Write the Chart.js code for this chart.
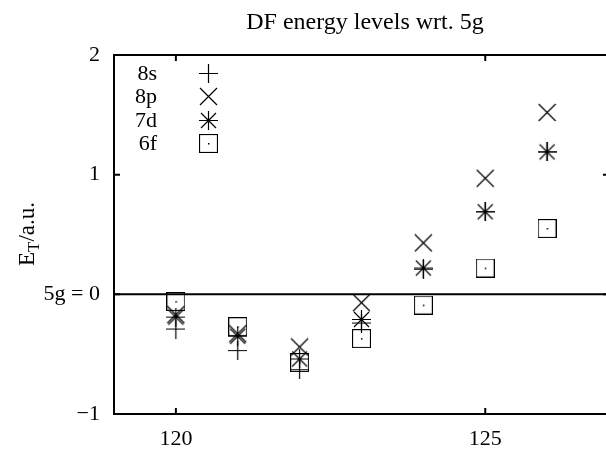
<!DOCTYPE html>
<html><head><meta charset="utf-8">
<script src="https://cdn.jsdelivr.net/npm/chart.js@4"></script>
<style>html,body{margin:0;padding:0;overflow:hidden;background:#fff}
#wrap{width:610px;height:449px;position:relative}
</style></head><body><div id="wrap"><canvas id="c"></canvas></div>
<script>
// ---- data ----
const xValues = [120, 121, 122, 123, 124, 125, 126];
const s8 = [-0.29, -0.47, -0.63, -0.24, 0.21, 0.69, 1.19];
const p8 = [-0.17, -0.33, -0.44, -0.07, 0.43, 0.97, 1.52];
const d7 = [-0.19, -0.35, -0.54, -0.21, 0.22, 0.69, 1.19];
const f6 = [-0.06, -0.27, -0.57, -0.37, -0.09, 0.22, 0.55];
const seriesLabels = ['8s', '8p', '7d', '6f'];
const xTickValues = [120, 125];
const yTickLabels = { '2': '2', '1': '1', '0': '5g = 0', '-1': '\u22121' };
const titleText = 'DF energy levels wrt. 5g';

const FONT = "'Liberation Serif', 'DejaVu Serif', serif";

// ---- marker images ----
function mk(size, draw) {
  const c = document.createElement('canvas');
  c.width = size; c.height = size;
  const g = c.getContext('2d');
  g.strokeStyle = '#000'; g.fillStyle = '#000'; g.lineWidth = 1.2;
  draw(g, size);
  return c;
}
const plusImg = mk(19, (g, s) => { g.beginPath(); g.moveTo(0, 9.5); g.lineTo(19, 9.5); g.moveTo(9.5, 0); g.lineTo(9.5, 19); g.stroke(); });
const crossImg = mk(19, (g, s) => { g.beginPath(); g.moveTo(1, 1); g.lineTo(18, 18); g.moveTo(18, 1); g.lineTo(1, 18); g.stroke(); });
const starImg = mk(19, (g, s) => { g.beginPath(); g.moveTo(0, 9.5); g.lineTo(19, 9.5); g.moveTo(9.5, 0); g.lineTo(9.5, 19);
  g.moveTo(2, 2); g.lineTo(17, 17); g.moveTo(17, 2); g.lineTo(2, 17); g.stroke(); });
const boxImg = mk(19, (g, s) => { g.strokeRect(0.5, 0.5, 18, 18); g.fillRect(9, 9, 1.5, 1.5); });
const markers = [plusImg, crossImg, starImg, boxImg];

const seriesValues = [s8, p8, d7, f6];
const datasets = seriesValues.map((vals, i) => ({
  label: seriesLabels[i],
  data: xValues.map((x, j) => ({ x: x, y: vals[j] })),
  showLine: false,
  pointStyle: markers[i],
  pointRadius: 9,
  pointHoverRadius: 9,
  borderColor: '#000',
  backgroundColor: '#000'
}));

// ---- frame, ticks, zero line, legend, titles ----
const framePlugin = {
  id: 'frame',
  beforeDatasetsDraw(chart) {
    const { ctx, chartArea: a, scales } = chart;
    const xs = scales.x, ys = scales.y;
    ctx.save();
    ctx.strokeStyle = '#000';
    ctx.lineWidth = 2;
    ctx.lineCap = 'square';
    ctx.strokeRect(a.left, a.top, a.right - a.left, a.bottom - a.top);
    const y0 = ys.getPixelForValue(0);
    ctx.beginPath(); ctx.moveTo(a.left, y0); ctx.lineTo(a.right, y0); ctx.stroke();
    const tl = 6;
    ctx.lineCap = 'butt';
    ctx.beginPath();
    xTickValues.forEach(v => {
      const px = xs.getPixelForValue(v);
      ctx.moveTo(px, a.bottom); ctx.lineTo(px, a.bottom - tl);
      ctx.moveTo(px, a.top); ctx.lineTo(px, a.top + tl);
    });
    Object.keys(yTickLabels).forEach(k => {
      const py = ys.getPixelForValue(Number(k));
      ctx.moveTo(a.left, py); ctx.lineTo(a.left + tl, py);
      ctx.moveTo(a.right, py); ctx.lineTo(a.right - tl, py);
    });
    ctx.stroke();
    ctx.restore();
  },
  afterDraw(chart) {
    const { ctx } = chart;
    ctx.save();
    ctx.fillStyle = '#000';
    // title
    ctx.font = '24px ' + FONT;
    ctx.textAlign = 'center';
    ctx.textBaseline = 'middle';
    ctx.fillText(titleText, 365, 23);
    // legend
    ctx.font = '22px ' + FONT;
    ctx.textAlign = 'right';
    const rows = [73, 96, 120, 143];
    chart.data.datasets.forEach((ds, i) => {
      ctx.fillText(ds.label, 157, rows[i] + 1);
      const img = ds.pointStyle;
      ctx.drawImage(img, Math.round(208 - img.width / 2), Math.round(rows[i] - img.height / 2));
    });
    // y axis title E_T/a.u.
    const cx = 34, cy = 234;
    ctx.translate(cx, cy);
    ctx.rotate(-Math.PI / 2);
    ctx.textAlign = 'left';
    ctx.textBaseline = 'alphabetic';
    const big = '23px ' + FONT, small = '17px ' + FONT;
    ctx.font = big; const wE = ctx.measureText('E').width;
    ctx.font = small; const wT = ctx.measureText('T').width;
    ctx.font = big; const wR = ctx.measureText('/a.u.').width;
    const x0 = -(wE + wT + wR) / 2;
    ctx.font = big; ctx.fillText('E', x0, 0);
    ctx.font = small; ctx.fillText('T', x0 + wE, 5);
    ctx.font = big; ctx.fillText('/a.u.', x0 + wE + wT, 0);
    ctx.restore();
  }
};

new Chart(document.getElementById('c'), {
  type: 'scatter',
  data: { datasets },
  options: {
    responsive: true,
    maintainAspectRatio: false,
    animation: false,
    events: [],
    layout: { autoPadding: false, padding: { left: 0, right: 1, top: 55, bottom: 0 } },
    plugins: {
      legend: { display: false },
      tooltip: { enabled: false },
      title: { display: false }
    },
    scales: {
      x: {
        type: 'linear',
        min: 119, max: 127,
        grid: { display: false, drawTicks: false },
        border: { display: false },
        ticks: {
          stepSize: 5, includeBounds: false, color: '#000', padding: 12,
          font: { family: FONT, size: 22 },
          maxRotation: 0
        },
        afterFit(s) { s.height = 35; }
      },
      y: {
        type: 'linear',
        min: -1, max: 2,
        grid: { display: false, drawTicks: false },
        border: { display: false },
        ticks: {
          stepSize: 1, color: '#000', padding: 14,
          font: { family: FONT, size: 22 },
          callback: v => yTickLabels[String(v)] ?? ''
        },
        afterFit(s) { s.width = 114; }
      }
    }
  },
  plugins: [framePlugin]
});
</script></body></html>
